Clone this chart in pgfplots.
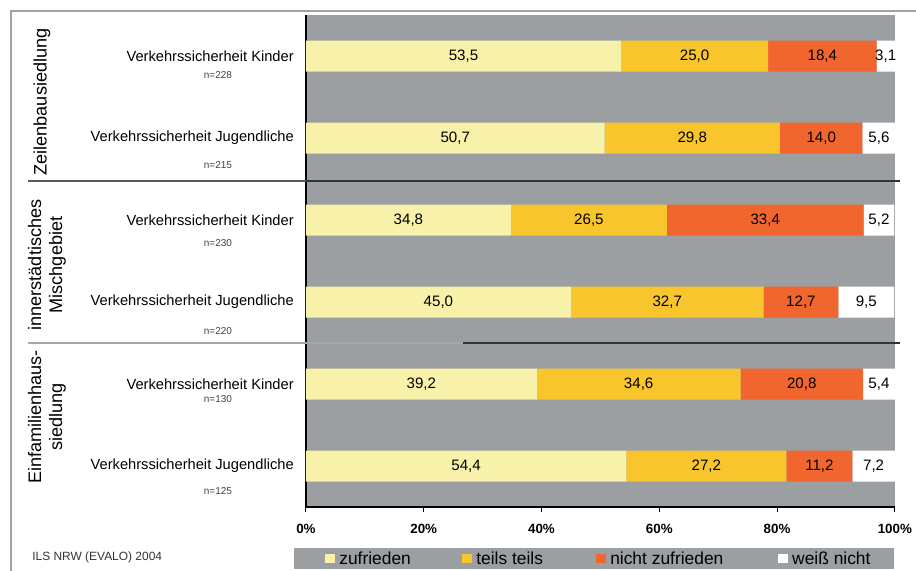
\documentclass[border=0pt]{standalone}
\usepackage{fontspec}
\setmainfont{Liberation Sans}
\usepackage{pgfplots}
\usepackage{pgfplotstable}
\pgfplotsset{compat=1.18}

\definecolor{plotbg}{HTML}{9B9FA1}
\definecolor{zufC}{HTML}{F7F1A9}
\definecolor{teilsC}{HTML}{F9C52D}
\definecolor{nichtC}{HTML}{F1652F}
\definecolor{frameC}{HTML}{A3A3A3}

% pos 5 = top row, pos 0 = bottom row
\pgfplotstableread{
pos zuf  teils nicht weiss
5   53.5 25.0  18.4  3.1
4   50.7 29.8  14.0  5.6
3   34.8 26.5  33.4  5.2
2   45.0 32.7  12.7  9.5
1   39.2 34.6  20.8  5.4
0   54.4 27.2  11.2  7.2
}\datatable

\pgfplotsset{
  frame geometry/.style={
    at={(6.12cm,1.28cm)}, anchor=south west,
    scale only axis, width=11.78cm, height=9.84cm,
    xmin=0, xmax=100, ymin=-0.5, ymax=5.5, enlargelimits=false,
  },
}
\tikzset{
  nlabel/.style={font=\fontsize{5.7}{7}\selectfont, text=black!75, xshift=-1.76cm},
}

\begin{document}
\begin{tikzpicture}[x=0.02cm,y=0.02cm]
\useasboundingbox (0,0) rectangle (916,571);
% outer frame
\draw[frameC, line width=1.1pt] (11,-5) -- (11,560) -- (920,560);
% legend panel
\fill[plotbg] (294,2) rectangle (894,23);

\begin{axis}[
  frame geometry, clip=false,
  xbar stacked, bar width=0.62cm,
  axis background/.style={fill=plotbg},
  axis lines*=left,
  axis line style={black, line width=0.8pt},
  xtick={0,20,...,100},
  xticklabel={\pgfmathprintnumber{\tick}\%},
  x tick label style={font=\bfseries\fontsize{7.6}{9}\selectfont, yshift=-0.12cm},
  tick align=outside, major tick length=0.1cm,
  xtick style={black, line width=0.6pt},
  ytick={0,...,5},
  yticklabels={Verkehrssicherheit Jugendliche, Verkehrssicherheit Kinder,
               Verkehrssicherheit Jugendliche, Verkehrssicherheit Kinder,
               Verkehrssicherheit Jugendliche, Verkehrssicherheit Kinder},
  y tick style={draw=none},
  y tick label style={font=\fontsize{8.35}{10}\selectfont, xshift=-0.02cm},
  /pgf/number format/assume math mode=true,
  legend columns=4,
  legend style={at={(axis description cs:0.0323,-0.1037)}, anchor=west,
    fill=none, draw=none, inner sep=0pt,
    nodes={inner sep=0pt, text depth=0pt},
    font=\fontsize{9.9}{11}\selectfont,
    /tikz/every even column/.append style={column sep=0pt}},
  legend image code/.code={\fill[#1] (0cm,-0.1cm) rectangle (0.2cm,0.09cm);},
]
\addplot[fill=zufC, draw=none]   table[x=zuf,   y=pos] {\datatable};
\addplot[fill=teilsC, draw=none] table[x=teils, y=pos] {\datatable};
\addplot[fill=nichtC, draw=none] table[x=nicht, y=pos] {\datatable};
\addplot[fill=white, draw=none]  table[x=weiss, y=pos] {\datatable};
\legend{\makebox[2.54cm][l]{\hspace{0.08cm}zufrieden},
        \makebox[2.48cm][l]{\hspace{0.08cm}teils teils},
        \makebox[3.44cm][l]{\hspace{0.08cm}nicht zufrieden},
        \makebox[2.0cm][l]{\hspace{0.08cm}weiß nicht}}

% sample sizes under the row labels
\node[nlabel, yshift=-0.38cm] at (axis cs:0,5) {n=228};
\node[nlabel, yshift=-0.54cm] at (axis cs:0,4) {n=215};
\node[nlabel, yshift=-0.46cm] at (axis cs:0,3) {n=230};
\node[nlabel, yshift=-0.58cm] at (axis cs:0,2) {n=220};
\node[nlabel, yshift=-0.30cm] at (axis cs:0,1) {n=130};
\node[nlabel, yshift=-0.50cm] at (axis cs:0,0) {n=125};
\end{axis}

% value labels, centred in their segments
\begin{axis}[
  frame geometry, hide axis,
  /pgf/number format/assume math mode=true,
  point meta=explicit,
  nodes near coords={\pgfmathprintnumber[fixed,fixed zerofill,precision=1,use comma]{\pgfplotspointmeta}},
  every node near coord/.append style={font=\fontsize{8.6}{10}\selectfont,
    anchor=center, text=black},
]
\addplot[draw=none, mark=none] table[x expr={\thisrow{zuf}/2}, y=pos, meta=zuf] {\datatable};
\addplot[draw=none, mark=none] table[x expr={\thisrow{zuf}+\thisrow{teils}/2}, y=pos, meta=teils] {\datatable};
\addplot[draw=none, mark=none] table[x expr={\thisrow{zuf}+\thisrow{teils}+\thisrow{nicht}/2}, y=pos, meta=nicht] {\datatable};
\addplot[draw=none, mark=none] table[x expr={\thisrow{zuf}+\thisrow{teils}+\thisrow{nicht}+\thisrow{weiss}/2}, y=pos, meta=weiss] {\datatable};
\end{axis}

% group separators
\draw[black!65, line width=0.6pt] (28,390) -- (306,390);
\draw[black!80, line width=0.8pt] (306,390) -- (900,390);
\draw[black!35, line width=0.6pt] (28,228) -- (463,228);
\draw[black!80, line width=0.9pt] (463,228) -- (900,228);

% group names
\node[rotate=90, font=\fontsize{10.3}{12}\selectfont] at (42,469) {Zeilenbausiedlung};
\node[rotate=90, align=center, font=\fontsize{10.3}{12}\selectfont] at (47,306)
  {innerstädtisches\\Mischgebiet};
\node[rotate=90, align=center, font=\fontsize{10.3}{12}\selectfont] at (47,154)
  {Einfamilienhaus-\\siedlung};

% source
\node[anchor=west, inner sep=0pt, font=\fontsize{6.8}{8}\selectfont, text=black!80]
  at (32,14) {ILS NRW (EVALO) 2004};
\end{tikzpicture}
\end{document}
